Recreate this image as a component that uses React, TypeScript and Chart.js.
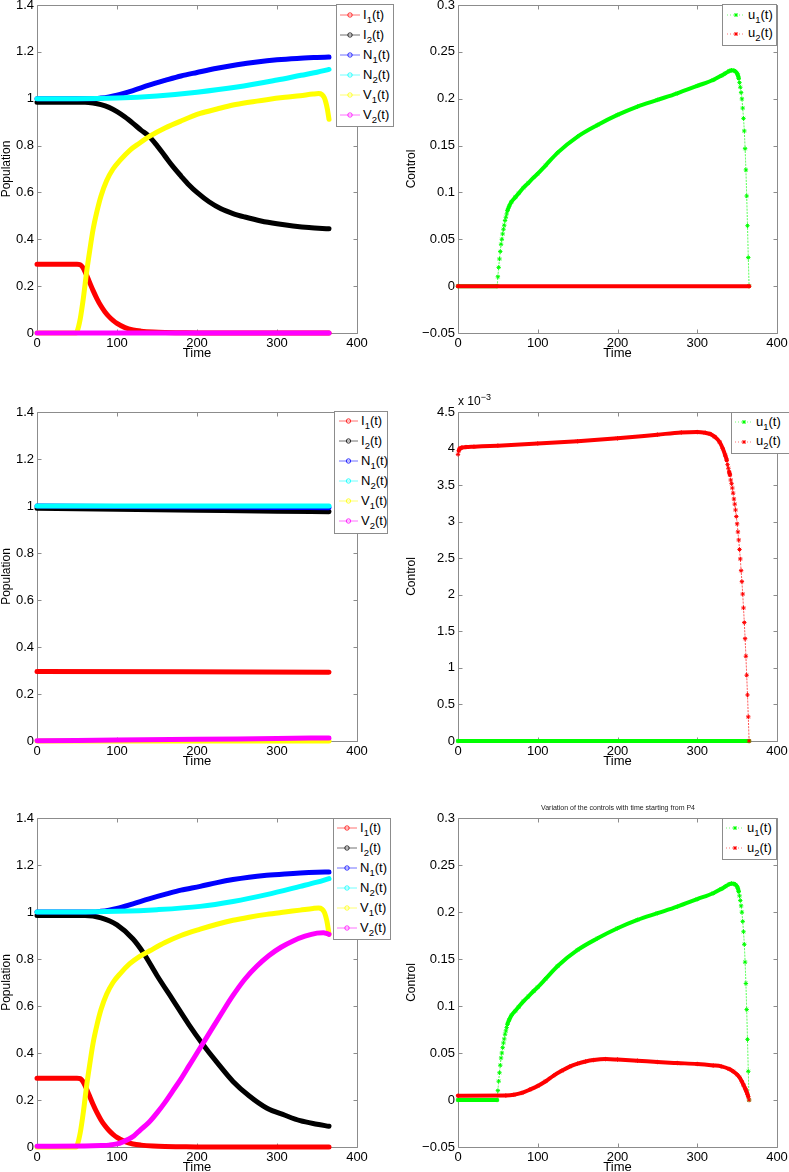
import React, { useEffect, useRef } from "react";
import { Chart, registerables } from "chart.js";
Chart.register(...registerables);

const FONT = '"Liberation Sans", Arial, Helvetica, sans-serif';
const AXIS_COLOR = "#8c8c8c";

// ---- tick labels ----
const X_TICKS = [0, 100, 200, 300, 400];
const POP_Y_TICKS = [0, 0.2, 0.4, 0.6, 0.8, 1, 1.2, 1.4];
const CTRL_Y_TICKS = [-0.05, 0, 0.05, 0.1, 0.15, 0.2, 0.25, 0.3];
const CTRL_SMALL_Y_TICKS = [0, 0.5, 1, 1.5, 2, 2.5, 3, 3.5, 4, 4.5]; // x 10^-3

// ---- colors ----
const C_I1 = "#ff0000";
const C_I2 = "#000000";
const C_N1 = "#0000ff";
const C_N2 = "#00ffff";
const C_V1 = "#ffff00";
const C_V2 = "#ff00ff";
const C_U1 = "#00ff00";
const C_U2 = "#ff0000";

// ---- Panel 1 (top-left) ----
const I1_T = [0, 50, 54, 57, 60, 65, 70, 75, 80, 85, 90, 95, 100, 110, 120, 130, 145, 160, 180, 200, 365];
const I1_V = [0.293, 0.293, 0.291, 0.281, 0.262, 0.222, 0.182, 0.146, 0.115, 0.09, 0.07, 0.054, 0.041, 0.023, 0.013, 0.008, 0.004, 0.002, 0.001, 0, 0];
const P1_I2_T = [0, 60, 70, 80, 90, 100, 110, 120, 130, 140, 150, 160, 170, 180, 190, 200, 215, 230, 245, 260, 280, 300, 320, 340, 365];
const P1_I2_V = [0.985, 0.985, 0.982, 0.975, 0.963, 0.945, 0.922, 0.895, 0.866, 0.84, 0.8, 0.755, 0.71, 0.67, 0.632, 0.6, 0.56, 0.53, 0.51, 0.495, 0.478, 0.466, 0.457, 0.45, 0.445];
const P1_N1_T = [0, 70, 80, 90, 100, 120, 140, 160, 180, 200, 225, 250, 275, 300, 325, 350, 365];
const P1_N1_V = [1.0, 1.0, 1.003, 1.008, 1.015, 1.035, 1.058, 1.078, 1.097, 1.112, 1.13, 1.145, 1.157, 1.166, 1.172, 1.176, 1.178];
const P1_N2_T = [0, 50, 100, 150, 200, 250, 300, 330, 350, 365];
const P1_N2_V = [1.0, 1.0, 1.003, 1.012, 1.028, 1.05, 1.08, 1.1, 1.113, 1.125];
const V1_T = [0, 49, 50, 54, 58, 62, 66, 70, 75, 80, 87, 95, 104, 116, 128, 141, 160, 180, 204, 225, 245, 265, 287, 310, 329, 345, 352, 356, 359, 361, 363, 365];
const P1_V1_V = [0, 0, 0.005, 0.06, 0.15, 0.26, 0.354, 0.44, 0.52, 0.585, 0.65, 0.7, 0.738, 0.78, 0.81, 0.84, 0.875, 0.905, 0.937, 0.956, 0.973, 0.985, 0.996, 1.006, 1.013, 1.02, 1.022, 1.018, 1.005, 0.985, 0.955, 0.912];
const P1_V2_T = [0, 365];
const P1_V2_V = [0, 0];

// ---- Panel 2 (top-right) ----
const U1_T = [0, 49, 50, 51, 52, 53, 54, 55, 56, 57, 58, 59, 60, 61, 62, 64, 67, 72, 76, 82, 88, 95, 100, 110, 125, 150, 175, 200, 225, 250, 275, 300, 320, 330, 335, 340, 343, 346, 348, 350, 351, 352, 353, 354, 355, 356, 357, 358, 359, 360, 361, 362, 363, 364, 365];
const U1_V = [0, 0, 0.01, 0.02, 0.029, 0.037, 0.0447, 0.05, 0.0557, 0.0607, 0.065, 0.07, 0.0735, 0.077, 0.0806, 0.085, 0.09, 0.095, 0.099, 0.105, 0.11, 0.116, 0.12, 0.129, 0.1425, 0.1596, 0.172, 0.1827, 0.1916, 0.1987, 0.2058, 0.2137, 0.22, 0.2245, 0.227, 0.2295, 0.2303, 0.23, 0.229, 0.227, 0.225, 0.2218, 0.2172, 0.2122, 0.2065, 0.1998, 0.19, 0.179, 0.1656, 0.1467, 0.124, 0.0962, 0.0645, 0.0305, 0];
const P2_U2_T = [0, 365];
const P2_U2_V = [0, 0];

// ---- Panel 3 (middle-left) ----
const P3_I1_T = [0, 365];
const P3_I1_V = [0.296, 0.293];
const P3_I2_T = [0, 100, 200, 300, 365];
const P3_I2_V = [0.99, 0.986, 0.982, 0.978, 0.976];
const P3_N1_T = [0, 100, 200, 300, 365];
const P3_N1_V = [1.0, 0.998, 0.996, 0.994, 0.993];
const P3_N2_T = [0, 365];
const P3_N2_V = [1.0, 1.0];
const P3_V1_T = [0, 365];
const P3_V1_V = [0, 0];
const P3_V2_T = [0, 100, 200, 300, 365];
const P3_V2_V = [0.001, 0.004, 0.007, 0.011, 0.013];

// ---- Panel 4 (middle-right), controls in units of 10^-3 ----
const P4_U1_T = [0, 365];
const P4_U1_V = [0, 0];
const P4_U2_T = [0, 1, 2, 3, 5, 10, 20, 50, 100, 150, 200, 250, 280, 300, 310, 316, 322, 328, 332, 335, 337, 338, 339, 340, 341, 342, 343, 344, 345, 346, 347, 348, 349, 350, 351, 352, 353, 354, 355, 356, 357, 358, 359, 360, 361, 362, 363, 364, 365];
const P4_U2_V = [3.92, 3.97, 3.995, 4.005, 4.015, 4.02, 4.025, 4.04, 4.07, 4.1, 4.14, 4.19, 4.22, 4.225, 4.215, 4.2, 4.16, 4.09, 4.0, 3.91, 3.84, 3.78, 3.73, 3.68, 3.64, 3.57, 3.52, 3.46, 3.39, 3.31, 3.24, 3.16, 3.07, 2.97, 2.86, 2.75, 2.62, 2.49, 2.33, 2.18, 2.01, 1.82, 1.62, 1.4, 1.16, 0.9, 0.63, 0.33, 0];

// ---- Panel 5 (bottom-left) ----
const P5_I2_T = [0, 60, 80, 100, 120, 133, 150, 170, 190, 206, 225, 245, 265, 287, 310, 329, 350, 365];
const P5_I2_V = [0.985, 0.985, 0.975, 0.945, 0.885, 0.826, 0.73, 0.625, 0.52, 0.443, 0.36, 0.279, 0.218, 0.166, 0.135, 0.112, 0.097, 0.088];
const P5_N1_T = [0, 70, 80, 90, 100, 120, 140, 162, 180, 204, 225, 245, 265, 287, 310, 329, 350, 365];
const P5_N1_V = [1.0, 1.0, 1.003, 1.008, 1.015, 1.035, 1.056, 1.077, 1.093, 1.109, 1.125, 1.138, 1.148, 1.156, 1.162, 1.166, 1.169, 1.17];
const P5_N2_T = [0, 50, 100, 150, 204, 245, 287, 329, 350, 365];
const P5_N2_V = [1.0, 1.0, 1.003, 1.01, 1.024, 1.045, 1.074, 1.109, 1.127, 1.142];
const P5_V1_V = [0, 0, 0.005, 0.06, 0.15, 0.26, 0.354, 0.44, 0.52, 0.585, 0.65, 0.7, 0.738, 0.78, 0.81, 0.835, 0.87, 0.9, 0.927, 0.948, 0.965, 0.978, 0.99, 1.0, 1.008, 1.015, 1.017, 1.013, 1.0, 0.98, 0.95, 0.905];
const P5_V2_T = [0, 60, 80, 90, 100, 108, 115, 121, 129, 140, 150, 160, 170, 180, 190, 200, 210, 220, 230, 245, 260, 275, 290, 305, 320, 335, 350, 358, 362, 365];
const P5_V2_V = [0.003, 0.004, 0.006, 0.008, 0.013, 0.023, 0.034, 0.047, 0.072, 0.105, 0.145, 0.19, 0.24, 0.29, 0.345, 0.4, 0.455, 0.51, 0.565, 0.645, 0.715, 0.77, 0.815, 0.85, 0.877, 0.897, 0.91, 0.912, 0.909, 0.905];

// ---- Panel 6 (bottom-right) ----
const P6_U2_T = [0, 60, 70, 80, 90, 100, 110, 120, 130, 140, 150, 160, 170, 185, 200, 225, 250, 275, 300, 320, 330, 340, 345, 350, 353, 356, 358, 360, 361, 362, 363, 364, 365];
const P6_U2_V = [0.0046, 0.0048, 0.0055, 0.0075, 0.011, 0.015, 0.02, 0.026, 0.031, 0.0355, 0.0387, 0.041, 0.0425, 0.0435, 0.043, 0.0418, 0.0404, 0.0393, 0.0383, 0.0368, 0.0358, 0.033, 0.0305, 0.027, 0.024, 0.0195, 0.016, 0.0125, 0.0105, 0.0085, 0.006, 0.0035, 0];

type Series = { name: string; sub: string; color: string; t: number[]; v: number[] };
type Panel = {
  kind: "pop" | "ctrl";
  left: number; top: number; w: number; h: number;
  padTop: number; padRight: number; yW: number; yTitlePad: number;
  yMin: number; yMax: number; yTicks: number[]; yTitle: string;
  series: Series[];
  legend: { left: number; top: number; width: number; height: number; first: number; step: number; sampleX: number; sampleW: number };
};

const popSeries = (i1t, i1v, i2t, i2v, n1t, n1v, n2t, n2v, v1t, v1v, v2t, v2v): Series[] => [
  { name: "I", sub: "1", color: C_I1, t: i1t, v: i1v },
  { name: "I", sub: "2", color: C_I2, t: i2t, v: i2v },
  { name: "N", sub: "1", color: C_N1, t: n1t, v: n1v },
  { name: "N", sub: "2", color: C_N2, t: n2t, v: n2v },
  { name: "V", sub: "1", color: C_V1, t: v1t, v: v1v },
  { name: "V", sub: "2", color: C_V2, t: v2t, v: v2v },
];
const ctrlSeries = (u1t, u1v, u2t, u2v): Series[] => [
  { name: "u", sub: "1", color: C_U1, t: u1t, v: u1v },
  { name: "u", sub: "2", color: C_U2, t: u2t, v: u2v },
];

const LEFT = { left: 0, w: 390, padRight: 33, yW: 37, yTitlePad: 0 };
const RIGHT = { left: 390, w: 399, padRight: 12, yW: 68, yTitlePad: 15 };
const ROW1 = { top: 0, h: 360, padTop: 5 };
const ROW2 = { top: 362, h: 406, padTop: 50 };
const ROW3 = { top: 770, h: 404, padTop: 48 };

const PANELS: Panel[] = [
  {
    kind: "pop", ...LEFT, ...ROW1, yMin: 0, yMax: 1.4, yTicks: POP_Y_TICKS, yTitle: "Population",
    series: popSeries(I1_T, I1_V, P1_I2_T, P1_I2_V, P1_N1_T, P1_N1_V, P1_N2_T, P1_N2_V, V1_T, P1_V1_V, P1_V2_T, P1_V2_V),
    legend: { left: 336, top: 4, width: 58, height: 123, first: 11, step: 20, sampleX: 3, sampleW: 20 },
  },
  {
    kind: "ctrl", ...RIGHT, ...ROW1, yMin: -0.05, yMax: 0.3, yTicks: CTRL_Y_TICKS, yTitle: "Control",
    series: ctrlSeries(U1_T, U1_V, P2_U2_T, P2_U2_V),
    legend: { left: 722, top: 4, width: 55, height: 42, first: 11, step: 18.5, sampleX: 4, sampleW: 18 },
  },
  {
    kind: "pop", ...LEFT, ...ROW2, yMin: 0, yMax: 1.4, yTicks: POP_Y_TICKS, yTitle: "Population",
    series: popSeries(P3_I1_T, P3_I1_V, P3_I2_T, P3_I2_V, P3_N1_T, P3_N1_V, P3_N2_T, P3_N2_V, P3_V1_T, P3_V1_V, P3_V2_T, P3_V2_V),
    legend: { left: 334, top: 411, width: 54, height: 123, first: 10, step: 20, sampleX: 4, sampleW: 19 },
  },
  {
    kind: "ctrl", ...RIGHT, ...ROW2, yMin: 0, yMax: 4.5, yTicks: CTRL_SMALL_Y_TICKS, yTitle: "Control",
    series: ctrlSeries(P4_U1_T, P4_U1_V, P4_U2_T, P4_U2_V),
    legend: { left: 731, top: 412, width: 60, height: 42, first: 10, step: 19.5, sampleX: 3, sampleW: 18 },
  },
  {
    kind: "pop", ...LEFT, ...ROW3, yMin: 0, yMax: 1.4, yTicks: POP_Y_TICKS, yTitle: "Population",
    series: popSeries(I1_T, I1_V, P5_I2_T, P5_I2_V, P5_N1_T, P5_N1_V, P5_N2_T, P5_N2_V, V1_T, P5_V1_V, P5_V2_T, P5_V2_V),
    legend: { left: 333, top: 818, width: 58, height: 122, first: 10, step: 20, sampleX: 3, sampleW: 20 },
  },
  {
    kind: "ctrl", ...RIGHT, ...ROW3, yMin: -0.05, yMax: 0.3, yTicks: CTRL_Y_TICKS, yTitle: "Control",
    series: ctrlSeries(U1_T, U1_V, P6_U2_T, P6_U2_V),
    legend: { left: 722, top: 818, width: 55, height: 42, first: 10, step: 20, sampleX: 3, sampleW: 18 },
  },
];

const fmt = (v: number) => {
  const r = Math.round(v * 10000) / 10000;
  return r < 0 ? "\u2212" + String(-r) : String(r);
};

const boxPlugin = {
  id: "matlabBox",
  beforeDatasetsDraw(chart: any) {
    const { ctx, chartArea: a, scales } = chart;
    const xs = scales.x;
    const ys = scales.y;
    const L = Math.round(a.left) + 0.5;
    const R = Math.round(a.right) + 0.5;
    const T = Math.round(a.top) + 0.5;
    const B = Math.round(a.bottom) + 0.5;
    const TL = 4;
    ctx.save();
    ctx.strokeStyle = AXIS_COLOR;
    ctx.lineWidth = 1;
    ctx.beginPath();
    ctx.rect(L, T, R - L, B - T);
    for (const tk of xs.ticks) {
      const px = Math.round(xs.getPixelForValue(tk.value)) + 0.5;
      ctx.moveTo(px, B); ctx.lineTo(px, B - TL);
      ctx.moveTo(px, T); ctx.lineTo(px, T + TL);
    }
    for (const tk of ys.ticks) {
      const py = Math.round(ys.getPixelForValue(tk.value)) + 0.5;
      ctx.moveTo(L, py); ctx.lineTo(L + TL, py);
      ctx.moveTo(R, py); ctx.lineTo(R - TL, py);
    }
    ctx.stroke();
    ctx.restore();
  },
};

const sparse = (ctx: any) => {
  const dt = Math.abs(ctx.p1.parsed.x - ctx.p0.parsed.x) || 1;
  return Math.hypot(ctx.p1.x - ctx.p0.x, ctx.p1.y - ctx.p0.y) / dt > 3.2;
};

function buildConfig(p: Panel): any {
  const isCtrl = p.kind === "ctrl";
  const datasets = p.series.map((s, i) => {
    const base: any = {
      label: `${s.name}${s.sub}(t)`,
      data: s.t.map((x, j) => ({ x, y: s.v[j] })),
      borderColor: s.color,
      backgroundColor: s.color,
      order: -i,
      clip: false,
      cubicInterpolationMode: "monotone",
      borderJoinStyle: "round",
      borderCapStyle: "round",
    };
    if (!isCtrl) return { ...base, borderWidth: 5, pointRadius: 0 };
    return {
      ...base,
      borderWidth: 4,
      pointRadius: 2.2,
      pointStyle: "star",
      pointBorderWidth: 1,
      pointBorderColor: s.color,
      pointBackgroundColor: s.color,
      segment: {
        borderWidth: (ctx: any) => (sparse(ctx) ? 0.7 : 4),
        borderDash: (ctx: any) => (sparse(ctx) ? [1.2, 2] : []),
      },
    };
  });
  return {
    type: "line",
    data: { datasets },
    plugins: [boxPlugin],
    options: {
      animation: false,
      responsive: false,
      devicePixelRatio: 1,
      events: [],
      layout: { padding: { left: 0, top: p.padTop, right: p.padRight, bottom: 0 } },
      plugins: { legend: { display: false }, tooltip: { enabled: false }, title: { display: false } },
      scales: {
        x: {
          type: "linear",
          min: 0,
          max: 400,
          afterBuildTicks: (s: any) => { s.ticks = X_TICKS.map((value) => ({ value })); },
          afterFit: (s: any) => { s.height = 27; s.paddingLeft = 0; s.paddingRight = 0; },
          grid: { display: false, drawTicks: false },
          border: { display: false },
          ticks: { font: { size: 13, family: FONT }, color: "#000", padding: 3, maxRotation: 0, autoSkip: false, callback: (v: number) => fmt(v) },
          title: { display: true, text: "Time", color: "#000", font: { size: 13, family: FONT, lineHeight: 1 }, padding: { top: 0, bottom: 0.5 } },
        },
        y: {
          type: "linear",
          min: p.yMin,
          max: p.yMax,
          afterBuildTicks: (s: any) => { s.ticks = p.yTicks.map((value) => ({ value })); },
          afterFit: (s: any) => { s.width = p.yW; s.paddingTop = 0; s.paddingBottom = 0; },
          grid: { display: false, drawTicks: false },
          border: { display: false },
          ticks: { font: { size: 13, family: FONT }, color: "#000", padding: 3, autoSkip: false, callback: (v: number) => fmt(v) },
          title: { display: true, text: p.yTitle, color: "#000", font: { size: 12, family: FONT, lineHeight: 1.1 }, padding: { top: p.yTitlePad, bottom: 0 } },
        },
      },
    },
  };
}

function PanelChart({ p }: { p: Panel }) {
  const ref = useRef<HTMLCanvasElement>(null);
  useEffect(() => {
    const chart = new Chart(ref.current as HTMLCanvasElement, buildConfig(p));
    return () => chart.destroy();
  }, [p]);
  return (
    <canvas
      ref={ref}
      width={p.w}
      height={p.h}
      style={{ position: "absolute", left: p.left, top: p.top, width: p.w, height: p.h }}
    />
  );
}

function Sample({ kind, color, w }: { kind: "pop" | "ctrl"; color: string; w: number }) {
  const c = w / 2;
  return (
    <svg width={w} height={20} style={{ flex: "none", display: "block" }}>
      <line x1={0} y1={10} x2={w} y2={10} stroke={color} strokeWidth={1} strokeDasharray={kind === "ctrl" ? "1 2" : undefined} opacity={0.55} />
      {kind === "pop" ? (
        <circle cx={c} cy={10} r={2.2} fill="none" stroke={color} strokeWidth={1} opacity={0.8} />
      ) : (
        <g stroke={color} strokeWidth={1}>
          <line x1={c - 2} y1={10} x2={c + 2} y2={10} />
          <line x1={c} y1={8} x2={c} y2={12} />
          <line x1={c - 1.5} y1={8.5} x2={c + 1.5} y2={11.5} />
          <line x1={c - 1.5} y1={11.5} x2={c + 1.5} y2={8.5} />
        </g>
      )}
    </svg>
  );
}

function LegendBox({ p }: { p: Panel }) {
  const lg = p.legend;
  return (
    <div
      style={{
        position: "absolute", left: lg.left, top: lg.top, width: lg.width, height: lg.height,
        boxSizing: "border-box", border: `1px solid ${AXIS_COLOR}`, background: "#fff", zIndex: 5,
      }}
    >
      {p.series.map((s, i) => (
        <div
          key={i}
          style={{
            position: "absolute", left: lg.sampleX, top: lg.first + i * lg.step - 11, height: 20,
            display: "flex", alignItems: "center", whiteSpace: "nowrap",
          }}
        >
          <Sample kind={p.kind} color={s.color} w={lg.sampleW} />
          <span style={{ marginLeft: 3, fontFamily: FONT, fontSize: 13, color: "#000", lineHeight: "20px" }}>
            {s.name}
            <span style={{ fontSize: 9.5, position: "relative", top: 4 }}>{s.sub}</span>
            (t)
          </span>
        </div>
      ))}
    </div>
  );
}

export default function App() {
  return (
    <div style={{ position: "absolute", left: 0, top: 0, width: 789, height: 1172, overflow: "hidden", background: "#fff" }}>
      {PANELS.map((p, i) => (
        <PanelChart key={i} p={p} />
      ))}
      {PANELS.map((p, i) => (
        <LegendBox key={"l" + i} p={p} />
      ))}
      <div style={{ position: "absolute", left: 458, top: 394, fontFamily: FONT, fontSize: 12, color: "#000", whiteSpace: "nowrap", zIndex: 6 }}>
        x 10<span style={{ fontSize: 9, position: "relative", top: -5 }}>{"\u22123"}</span>
      </div>
      <div style={{ position: "absolute", left: 458, top: 804, width: 320, textAlign: "center", fontFamily: FONT, fontSize: 7, color: "#222", whiteSpace: "nowrap", zIndex: 6 }}>
        Variation of the controls with time starting from P4
      </div>
    </div>
  );
}
